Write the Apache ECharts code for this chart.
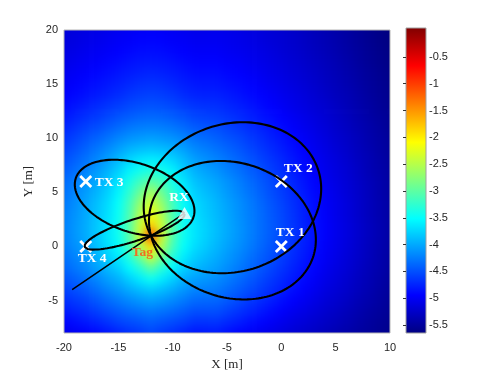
<!DOCTYPE html>
<html><head><meta charset="utf-8">
<script src="https://cdn.jsdelivr.net/npm/echarts@6/dist/echarts.min.js"></script>
<style>
html,body{margin:0;padding:0;background:#fff;}
#wrap{position:relative;width:498px;height:374px;overflow:hidden;}
#heatClip{position:absolute;left:0;top:0;width:498px;height:374px;clip-path:inset(30px 108px 41px 64px);}
#heat{position:absolute;left:0;top:0;width:498px;height:374px;filter:blur(4px);}
#main{position:absolute;left:0;top:0;width:498px;height:374px;}
</style></head><body>
<div id="wrap"><div id="heatClip"><div id="heat"></div></div><div id="main"></div></div>
<script>
// ---------------- data ----------------
const txNames = ['TX 1', 'TX 2', 'TX 3', 'TX 4'];
const txX = [0, 0, -18, -18];
const txY = [0, 6, 6, 0];
const rxPos = [-9, 3];
const tagPos = [-12, 1];
const lineEnd = [-19.25, -4.0];

const xTicks = [-20, -15, -10, -5, 0, 5, 10];
const yTicks = [-5, 0, 5, 10, 15, 20];
const cbTicks = [-5.5, -5, -4.5, -4, -3.5, -3, -2.5, -2, -1.5, -1, -0.5];
const cMin = -5.65, cMax = 0.04;

// heat field cells (centres), columns by x, values top (y=20) to bottom (y=-8)
const heatX = [-20,-19,-18,-17,-16,-15,-14,-13,-12,-11,-10,-9,-8,-7,-6,-5,-4,-3,-2,-1,0,1,2,3,4,5,6,7,8,9,10];
const heatY = [20,19,18,17,16,15,14,13,12,11,10,9,8,7,6,5,4,3,2,1,0,-1,-2,-3,-4,-5,-6,-7,-8];
const heatValues = [
 [-5.15,-5.13,-5.10,-5.07,-5.03,-4.99,-4.95,-4.89,-4.82,-4.74,-4.65,-4.58,-4.50,-4.42,-4.35,-4.31,-4.27,-4.24,-4.22,-4.22,-4.25,-4.31,-4.38,-4.48,-4.58,-4.69,-4.80,-4.92,-5.05],
 [-5.13,-5.10,-5.07,-5.03,-4.99,-4.95,-4.90,-4.83,-4.75,-4.66,-4.57,-4.49,-4.40,-4.32,-4.24,-4.19,-4.15,-4.12,-4.10,-4.10,-4.14,-4.21,-4.28,-4.39,-4.50,-4.62,-4.74,-4.87,-5.00],
 [-5.10,-5.07,-5.03,-4.99,-4.95,-4.90,-4.85,-4.77,-4.68,-4.58,-4.48,-4.39,-4.30,-4.21,-4.12,-4.07,-4.02,-4.00,-3.98,-3.98,-4.02,-4.10,-4.18,-4.30,-4.42,-4.55,-4.68,-4.81,-4.95],
 [-5.08,-5.04,-5.00,-4.96,-4.91,-4.86,-4.80,-4.71,-4.62,-4.51,-4.39,-4.28,-4.18,-4.08,-3.99,-3.93,-3.87,-3.85,-3.82,-3.82,-3.86,-3.95,-4.04,-4.18,-4.31,-4.45,-4.59,-4.74,-4.89],
 [-5.05,-5.01,-4.97,-4.92,-4.87,-4.81,-4.75,-4.65,-4.55,-4.43,-4.30,-4.17,-4.05,-3.95,-3.85,-3.78,-3.72,-3.69,-3.66,-3.65,-3.70,-3.79,-3.90,-4.05,-4.20,-4.35,-4.50,-4.66,-4.82],
 [-5.02,-4.98,-4.94,-4.89,-4.83,-4.77,-4.70,-4.60,-4.48,-4.35,-4.20,-4.05,-3.90,-3.78,-3.65,-3.57,-3.50,-3.47,-3.45,-3.45,-3.50,-3.62,-3.78,-3.95,-4.10,-4.26,-4.42,-4.58,-4.75],
 [-5.00,-4.96,-4.91,-4.85,-4.79,-4.72,-4.64,-4.54,-4.42,-4.28,-4.12,-3.94,-3.75,-3.58,-3.40,-3.27,-3.15,-3.10,-3.05,-3.05,-3.15,-3.33,-3.55,-3.78,-3.98,-4.17,-4.35,-4.52,-4.68],
 [-4.98,-4.93,-4.88,-4.82,-4.76,-4.68,-4.60,-4.50,-4.38,-4.24,-4.08,-3.88,-3.65,-3.42,-3.15,-2.92,-2.70,-2.55,-2.40,-2.35,-2.55,-2.90,-3.30,-3.62,-3.88,-4.10,-4.30,-4.47,-4.63],
 [-4.97,-4.92,-4.87,-4.81,-4.74,-4.66,-4.58,-4.48,-4.36,-4.22,-4.05,-3.85,-3.60,-3.35,-3.00,-2.60,-2.35,-2.15,-1.85,-1.00,-1.90,-2.40,-3.00,-3.45,-3.80,-4.05,-4.25,-4.42,-4.55],
 [-4.98,-4.93,-4.88,-4.82,-4.76,-4.68,-4.60,-4.50,-4.38,-4.24,-4.08,-3.88,-3.65,-3.42,-3.15,-2.92,-2.70,-2.55,-2.40,-2.35,-2.55,-2.90,-3.30,-3.62,-3.88,-4.10,-4.30,-4.47,-4.63],
 [-5.00,-4.96,-4.91,-4.85,-4.79,-4.72,-4.64,-4.54,-4.42,-4.28,-4.12,-3.94,-3.75,-3.58,-3.40,-3.27,-3.15,-3.10,-3.05,-3.05,-3.15,-3.33,-3.55,-3.78,-3.98,-4.17,-4.35,-4.52,-4.68],
 [-5.02,-4.98,-4.94,-4.89,-4.83,-4.77,-4.70,-4.60,-4.48,-4.35,-4.20,-4.05,-3.90,-3.78,-3.65,-3.57,-3.50,-3.47,-3.45,-3.45,-3.50,-3.62,-3.78,-3.95,-4.10,-4.26,-4.42,-4.58,-4.75],
 [-5.05,-5.01,-4.97,-4.92,-4.87,-4.81,-4.75,-4.65,-4.55,-4.43,-4.30,-4.17,-4.05,-3.95,-3.85,-3.78,-3.72,-3.69,-3.66,-3.65,-3.70,-3.79,-3.90,-4.05,-4.20,-4.35,-4.50,-4.66,-4.82],
 [-5.05,-5.01,-4.97,-4.93,-4.88,-4.82,-4.76,-4.67,-4.58,-4.47,-4.35,-4.24,-4.13,-4.03,-3.94,-3.88,-3.82,-3.80,-3.77,-3.77,-3.81,-3.89,-3.98,-4.10,-4.23,-4.36,-4.50,-4.66,-4.81],
 [-5.04,-5.01,-4.97,-4.93,-4.88,-4.82,-4.76,-4.68,-4.60,-4.50,-4.40,-4.30,-4.20,-4.11,-4.02,-3.97,-3.92,-3.90,-3.88,-3.88,-3.92,-3.98,-4.05,-4.15,-4.25,-4.37,-4.50,-4.65,-4.80],
 [-5.06,-5.03,-5.00,-4.96,-4.91,-4.86,-4.80,-4.73,-4.65,-4.56,-4.47,-4.38,-4.29,-4.21,-4.12,-4.08,-4.03,-4.01,-3.99,-3.99,-4.03,-4.09,-4.15,-4.24,-4.34,-4.45,-4.58,-4.72,-4.86],
 [-5.08,-5.05,-5.02,-4.98,-4.94,-4.89,-4.84,-4.77,-4.70,-4.62,-4.53,-4.45,-4.37,-4.30,-4.22,-4.18,-4.13,-4.12,-4.10,-4.10,-4.13,-4.19,-4.25,-4.33,-4.42,-4.53,-4.65,-4.78,-4.92],
 [-5.11,-5.08,-5.05,-5.02,-4.98,-4.93,-4.89,-4.83,-4.76,-4.69,-4.61,-4.54,-4.46,-4.40,-4.33,-4.29,-4.24,-4.23,-4.21,-4.21,-4.24,-4.30,-4.35,-4.43,-4.51,-4.62,-4.73,-4.85,-4.97],
 [-5.13,-5.11,-5.08,-5.05,-5.01,-4.97,-4.93,-4.88,-4.82,-4.75,-4.68,-4.62,-4.55,-4.49,-4.43,-4.39,-4.35,-4.33,-4.32,-4.32,-4.35,-4.40,-4.45,-4.52,-4.60,-4.70,-4.80,-4.91,-5.02],
 [-5.17,-5.15,-5.12,-5.09,-5.06,-5.02,-4.98,-4.94,-4.88,-4.82,-4.76,-4.70,-4.64,-4.59,-4.53,-4.50,-4.46,-4.44,-4.43,-4.43,-4.46,-4.50,-4.55,-4.62,-4.69,-4.78,-4.88,-4.98,-5.07],
 [-5.20,-5.18,-5.16,-5.13,-5.10,-5.07,-5.03,-4.99,-4.94,-4.89,-4.83,-4.78,-4.72,-4.68,-4.63,-4.60,-4.56,-4.54,-4.53,-4.53,-4.56,-4.60,-4.65,-4.71,-4.77,-4.86,-4.95,-5.04,-5.12],
 [-5.24,-5.22,-5.20,-5.18,-5.15,-5.12,-5.08,-5.05,-5.00,-4.96,-4.91,-4.86,-4.81,-4.78,-4.73,-4.70,-4.67,-4.65,-4.64,-4.64,-4.67,-4.70,-4.75,-4.80,-4.86,-4.94,-5.02,-5.10,-5.17],
 [-5.28,-5.26,-5.24,-5.22,-5.19,-5.16,-5.13,-5.10,-5.06,-5.02,-4.98,-4.94,-4.90,-4.87,-4.83,-4.80,-4.77,-4.76,-4.75,-4.75,-4.77,-4.80,-4.84,-4.89,-4.94,-5.01,-5.08,-5.15,-5.22],
 [-5.33,-5.31,-5.29,-5.27,-5.24,-5.22,-5.19,-5.16,-5.12,-5.09,-5.05,-5.02,-4.98,-4.96,-4.92,-4.90,-4.87,-4.86,-4.85,-4.85,-4.87,-4.90,-4.93,-4.98,-5.02,-5.08,-5.14,-5.21,-5.27],
 [-5.37,-5.35,-5.33,-5.31,-5.29,-5.27,-5.24,-5.21,-5.18,-5.15,-5.12,-5.09,-5.06,-5.04,-5.01,-4.99,-4.97,-4.96,-4.95,-4.95,-4.97,-4.99,-5.02,-5.06,-5.10,-5.15,-5.20,-5.26,-5.32],
 [-5.42,-5.40,-5.38,-5.36,-5.34,-5.32,-5.30,-5.27,-5.24,-5.22,-5.19,-5.16,-5.13,-5.11,-5.09,-5.07,-5.05,-5.05,-5.04,-5.04,-5.05,-5.07,-5.10,-5.13,-5.17,-5.21,-5.26,-5.31,-5.37],
 [-5.46,-5.45,-5.43,-5.41,-5.39,-5.37,-5.35,-5.33,-5.30,-5.28,-5.25,-5.23,-5.20,-5.18,-5.16,-5.15,-5.13,-5.13,-5.12,-5.12,-5.13,-5.15,-5.17,-5.20,-5.23,-5.27,-5.32,-5.36,-5.41],
 [-5.51,-5.50,-5.48,-5.47,-5.45,-5.43,-5.41,-5.39,-5.37,-5.35,-5.32,-5.30,-5.28,-5.26,-5.24,-5.23,-5.22,-5.22,-5.21,-5.21,-5.22,-5.23,-5.25,-5.28,-5.30,-5.34,-5.38,-5.42,-5.46],
 [-5.56,-5.55,-5.53,-5.52,-5.50,-5.49,-5.47,-5.45,-5.43,-5.41,-5.39,-5.37,-5.35,-5.34,-5.32,-5.31,-5.30,-5.30,-5.29,-5.29,-5.30,-5.31,-5.33,-5.35,-5.37,-5.40,-5.44,-5.47,-5.50],
 [-5.61,-5.60,-5.58,-5.57,-5.55,-5.54,-5.52,-5.51,-5.49,-5.47,-5.45,-5.44,-5.42,-5.41,-5.39,-5.39,-5.38,-5.38,-5.37,-5.37,-5.38,-5.39,-5.40,-5.42,-5.44,-5.46,-5.49,-5.52,-5.54],
 [-5.65,-5.64,-5.62,-5.61,-5.60,-5.59,-5.57,-5.56,-5.54,-5.53,-5.51,-5.50,-5.48,-5.47,-5.46,-5.46,-5.45,-5.45,-5.44,-5.44,-5.45,-5.46,-5.47,-5.49,-5.50,-5.52,-5.54,-5.56,-5.58]
];

// ---------------- styles ----------------
const jet = ['#000080','#0000ff','#0080ff','#00ffff','#80ff80','#ffff00','#ff8000','#ff0000','#800000'];
const plotGrid = { left: 64, top: 30, width: 326, height: 303 };
const labelFont = 'bold 13.5px "Liberation Serif", "Times New Roman", serif';
const tickColor = '#262626';
const labelOffsets = { 'TX 1': [-5.5, -14, 'left'], 'TX 2': [2.5, -13, 'left'], 'TX 3': [9, 1, 'left'], 'TX 4': [-8, 12, 'left'] };

// ---------------- heat layer (blurred) ----------------
const heatData = [];
heatX.forEach((x, i) => heatY.forEach((y, j) => heatData.push([x, y, heatValues[i][j]])));

const chartA = echarts.init(document.getElementById('heat'), null, { renderer: 'canvas' });
chartA.setOption({
  animation: false,
  backgroundColor: 'transparent',
  grid: Object.assign({ show: false, outerBoundsMode: 'none' }, plotGrid),
  xAxis: { type: 'value', min: -20, max: 10, show: false },
  yAxis: { type: 'value', min: -8, max: 20, show: false },
  visualMap: { type: 'continuous', show: false, min: cMin, max: cMax, dimension: 2, seriesIndex: 0, inRange: { color: jet } },
  series: [{
    type: 'custom', data: heatData, clip: false, progressive: 0, silent: true,
    renderItem: function (params, api) {
      const x = api.value(0), y = api.value(1);
      const c = api.coord([x, y]);
      const s = api.size([1, 1]);
      let x0 = c[0] - s[0] / 2, x1 = c[0] + s[0] / 2, y0 = c[1] - s[1] / 2, y1 = c[1] + s[1] / 2;
      const ext = 16;
      if (x === heatX[0]) x0 -= ext;
      if (x === heatX[heatX.length - 1]) x1 += ext;
      if (y === heatY[0]) y0 -= ext;
      if (y === heatY[heatY.length - 1]) y1 += ext;
      return { type: 'rect', shape: { x: x0, y: y0, width: x1 - x0 + 0.7, height: y1 - y0 + 0.7 }, style: { fill: api.visual('color') } };
    }
  }]
});

// ---------------- overlay ----------------
function ellipsePts(fx, fy) {
  const rx = rxPos[0], ry = rxPos[1];
  const sum = Math.hypot(tagPos[0] - fx, tagPos[1] - fy) + Math.hypot(tagPos[0] - rx, tagPos[1] - ry);
  const a = sum / 2, c = Math.hypot(fx - rx, fy - ry) / 2;
  const b = Math.sqrt(Math.max(a * a - c * c, 0));
  const cx = (fx + rx) / 2, cy = (fy + ry) / 2, th = Math.atan2(ry - fy, rx - fx);
  const pts = [];
  for (let k = 0; k <= 360; k++) {
    const p = k * Math.PI / 180, u = a * Math.cos(p), v = b * Math.sin(p);
    pts.push([cx + u * Math.cos(th) - v * Math.sin(th), cy + u * Math.sin(th) + v * Math.cos(th)]);
  }
  return pts;
}

const series = [];
txX.forEach((x, i) => {
  series.push({ type: 'line', data: ellipsePts(x, txY[i]), symbol: 'none', showSymbol: false, silent: true, z: 4,
    lineStyle: { color: '#000', width: 2.1 } });
});
series.push({ type: 'line', data: [lineEnd, rxPos], symbol: 'none', showSymbol: false, silent: true, z: 4,
  lineStyle: { color: '#000', width: 1.5 } });
// TX markers (white x)
series.push({
  type: 'custom', data: txX.map((x, i) => [x, txY[i]]), silent: true, z: 2,
  renderItem: function (params, api) {
    const c = api.coord([api.value(0), api.value(1)]), h = 5.5;
    return { type: 'group', children: [
      { type: 'line', shape: { x1: c[0] - h, y1: c[1] - h, x2: c[0] + h, y2: c[1] + h }, style: { stroke: '#fff', lineWidth: 2.8 } },
      { type: 'line', shape: { x1: c[0] - h, y1: c[1] + h, x2: c[0] + h, y2: c[1] - h }, style: { stroke: '#fff', lineWidth: 2.8 } }
    ] };
  }
});
// RX marker
series.push({ type: 'scatter', data: [rxPos], symbol: 'triangle', symbolSize: [14, 12], symbolOffset: [1, -1], silent: true, z: 5,
  itemStyle: { color: '#fff' } });
// labels
const labelData = txX.map((x, i) => [x, txY[i], txNames[i]]).concat([[rxPos[0], rxPos[1], 'RX'], [tagPos[0], tagPos[1], 'Tag']]);
series.push({
  type: 'custom', data: labelData, silent: true, z: 6,
  renderItem: function (params, api) {
    const name = labelData[params.dataIndex][2];
    const c = api.coord([api.value(0), api.value(1)]);
    let dx, dy, al, fill = '#fff';
    if (name === 'RX') { dx = -4.5; dy = -16; al = 'center'; }
    else if (name === 'Tag') { dx = -8.5; dy = 17; al = 'center'; fill = '#f26d21'; }
    else { dx = labelOffsets[name][0]; dy = labelOffsets[name][1]; al = labelOffsets[name][2]; }
    return { type: 'text', x: c[0] + dx, y: c[1] + dy,
      style: { text: name, fill: fill, font: labelFont, align: al, textAlign: al, verticalAlign: 'middle', textVerticalAlign: 'middle' } };
  }
});

// colorbar gradient built from the jet stops
const cbGradient = new echarts.graphic.LinearGradient(0, 1, 0, 0,
  jet.map((col, i) => ({ offset: i / (jet.length - 1), color: col })));

const chartB = echarts.init(document.getElementById('main'), null, { renderer: 'canvas' });
chartB.setOption({
  animation: false,
  backgroundColor: 'transparent',
  grid: [
    Object.assign({ show: true, borderColor: '#b5b5b5', borderWidth: 1, backgroundColor: 'transparent', outerBoundsMode: 'none', containLabel: false }, plotGrid),
    { left: 406, top: 28, width: 20, height: 305, show: true, backgroundColor: cbGradient, borderColor: '#a0a0a0', borderWidth: 1, outerBoundsMode: 'none', containLabel: false }
  ],
  xAxis: [
    { type: 'value', gridIndex: 0, min: -20, max: 10, interval: 5,
      axisLine: { show: false }, axisTick: { show: false }, splitLine: { show: false },
      axisLabel: { color: tickColor, fontSize: 11, fontFamily: 'Liberation Sans, Arial, sans-serif', margin: 9 },
      name: 'X [m]', nameLocation: 'middle', nameGap: 22,
      nameTextStyle: { color: tickColor, fontSize: 13, fontFamily: 'Liberation Serif, Times New Roman, serif' } },
    { type: 'value', gridIndex: 1, min: 0, max: 1, show: false }
  ],
  yAxis: [
    { type: 'value', gridIndex: 0, min: -8, max: 20,
      axisLine: { show: false }, axisTick: { show: false }, splitLine: { show: false },
      axisLabel: { customValues: yTicks, color: tickColor, fontSize: 11, fontFamily: 'Liberation Sans, Arial, sans-serif', margin: 6 },
      name: 'Y [m]', nameLocation: 'middle', nameGap: 25,
      nameTextStyle: { color: tickColor, fontSize: 13, fontFamily: 'Liberation Serif, Times New Roman, serif' } },
    { type: 'value', gridIndex: 1, min: cMin, max: cMax, position: 'right', z: 10,
      axisLine: { show: false },
      axisTick: { show: true, inside: true, length: 3, customValues: cbTicks, lineStyle: { color: '#333' } },
      axisLabel: { customValues: cbTicks, color: tickColor, fontSize: 11, fontFamily: 'Liberation Sans, Arial, sans-serif', margin: 3 },
      splitLine: { show: false } }
  ],
  series: series
});
</script>
</body></html>
